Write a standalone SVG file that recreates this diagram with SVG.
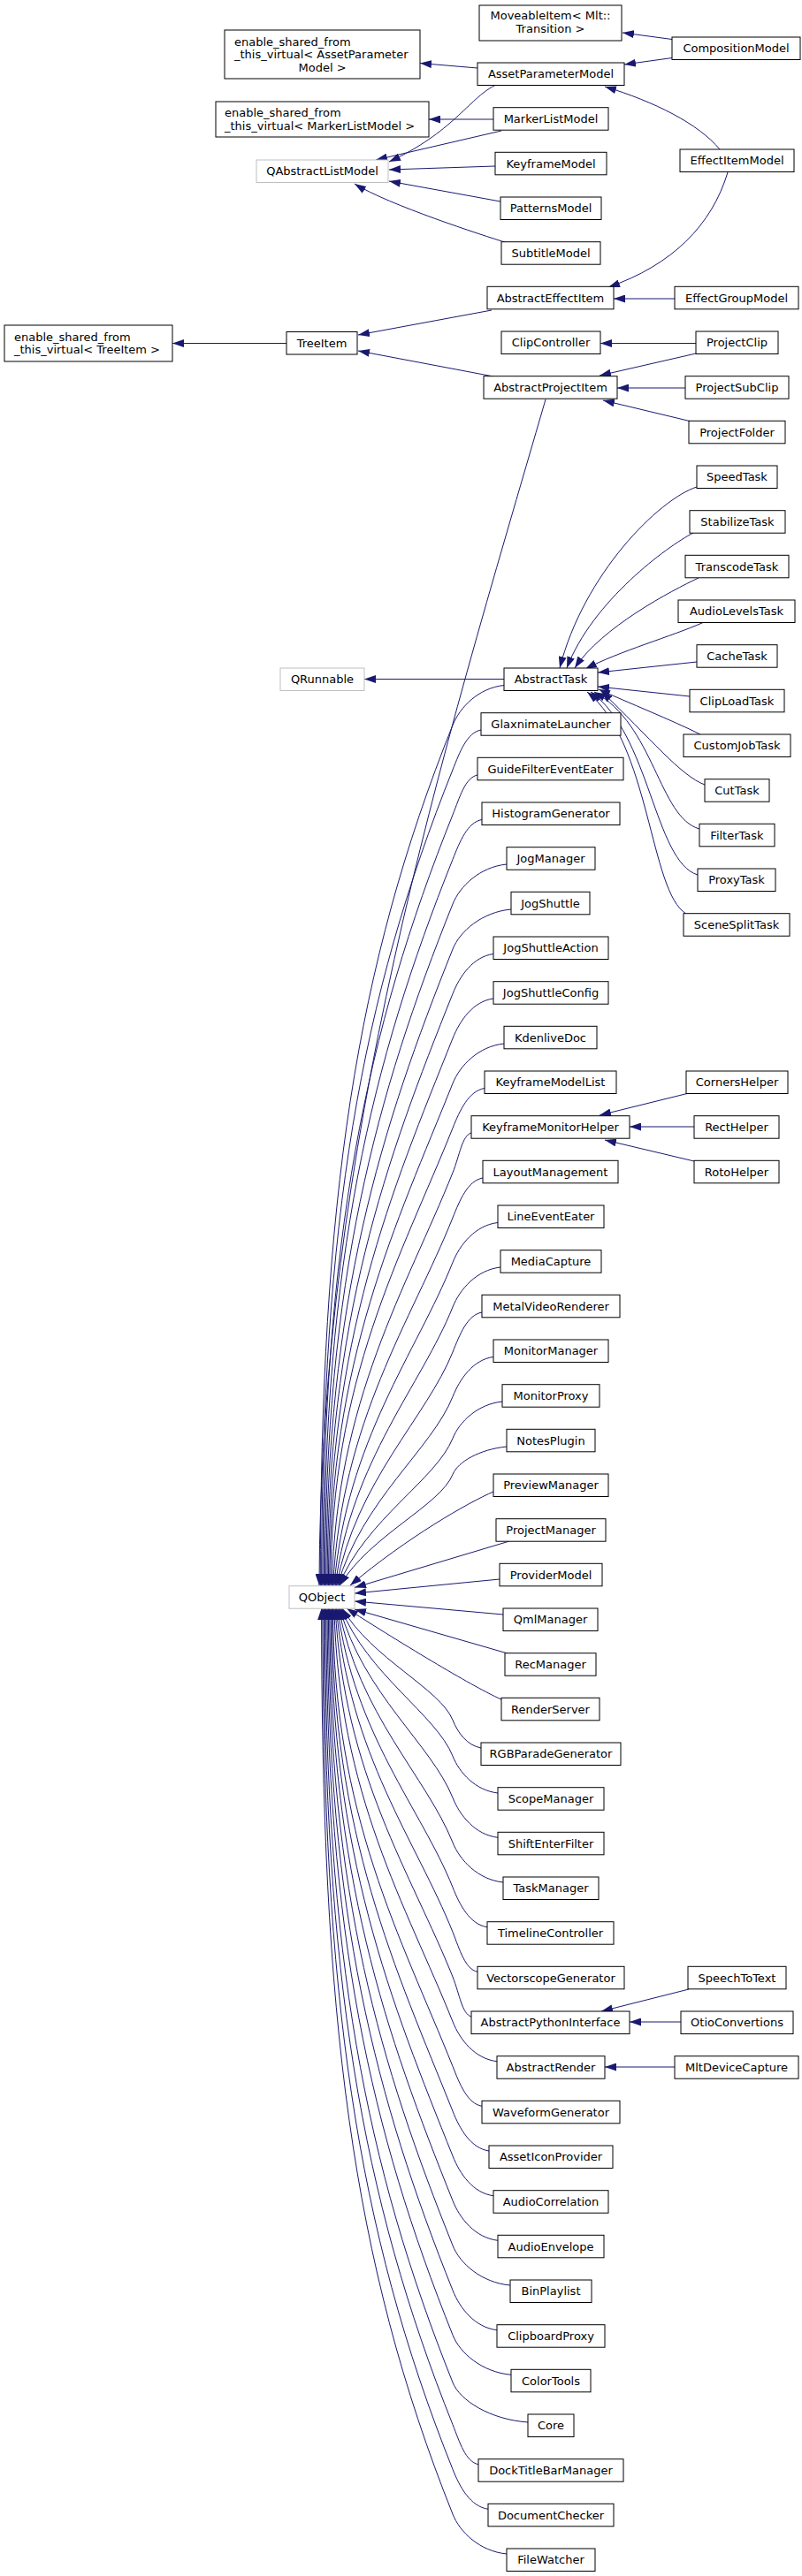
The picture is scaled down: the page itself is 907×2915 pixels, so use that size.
<svg xmlns="http://www.w3.org/2000/svg" width="907" height="2915" viewBox="0 0 907 2915">
<style>
.n rect{fill:#fff;stroke:#000;stroke-width:1}
.u rect{fill:#fff;stroke:#bfbfbf;stroke-width:1}
text{font-family:"DejaVu Sans","Liberation Sans",sans-serif;font-size:13px;fill:#000;text-anchor:middle}
text.l{text-anchor:start}
#edges path{fill:none;stroke:#191970;stroke-width:1;marker-end:url(#arr)}
</style>
<defs>
<marker id="arr" viewBox="0 0 13 9" refX="13" refY="4.5" markerWidth="13" markerHeight="9" markerUnits="userSpaceOnUse" orient="auto"><path d="M0,0 L13,4.5 L0,9 Z" fill="#191970"/></marker>
</defs>
<rect width="907" height="2915" fill="#fff"/>
<g id="edges">
<path d="M760,44.5 L704,37"/>
<path d="M760,65.5 L706,73"/>
<path d="M540,77 L475,71.5"/>
<path d="M558,135 L485,135"/>
<path d="M559,97 C530,112 512,150 440,183"/>
<path d="M567,148 L425,181"/>
<path d="M560,188 L440,192"/>
<path d="M566,228 L440,205"/>
<path d="M574,275 C545,266 440,232 401,208"/>
<path d="M814,169 C790,140 740,115 684,98"/>
<path d="M823,195 C805,255 760,300 688,325"/>
<path d="M763,338 L694,338"/>
<path d="M556,351 L405,379"/>
<path d="M324,388.5 L195,388.5"/>
<path d="M558,426 L405,397"/>
<path d="M787,388.5 L679,388.5"/>
<path d="M787,400 L678,425"/>
<path d="M775,439 L698,439"/>
<path d="M782,477 L682,453"/>
<path d="M788,551 C745,565 660,650 633,756"/>
<path d="M784,603 C755,618 670,680 641,756"/>
<path d="M790,654 C760,668 680,710 650,756"/>
<path d="M795,704.5 C760,720 700,737 662,757"/>
<path d="M788,749 L676,761"/>
<path d="M780,788 L676,777"/>
<path d="M792,831 C760,815 710,795 677,780"/>
<path d="M797,888 C770,878 735,835 680,782"/>
<path d="M791,938 C745,925 740,820 672,783"/>
<path d="M789,990 C740,975 735,830 668,783"/>
<path d="M776,1034 C735,1010 735,840 664,783"/>
<path d="M570,768.5 L412,768.5"/>
<path d="M779,1237 L678,1262"/>
<path d="M785,1275 L712,1275"/>
<path d="M785,1314 L684,1290"/>
<path d="M779,2251 L680,2276"/>
<path d="M770,2288 L712,2288"/>
<path d="M763,2339 L684,2339"/>
<path d="M617,452 C501,852 362,1294 361,1794"/>
<path d="M570,775.5 C541,778.5 520,800.5 512,820.5 C403,1093 362.3,1356 362.3,1794"/>
<path d="M544,826 C528,829 520,851 512,871 C408.6,1129.4 363.6,1378.6 363.6,1794"/>
<path d="M540,877 C526,880 520,902 512,922 C414.3,1166.2 364.9,1401.6 364.9,1794"/>
<path d="M545,927.5 C528.5,930.5 520,952.5 512,972.5 C420,1202.5 366.2,1424.3 366.2,1794"/>
<path d="M573,978 C542.5,981 520,1003 512,1023 C425.6,1238.9 367.5,1447 367.5,1794"/>
<path d="M578,1029 C545,1032 520,1054 512,1074 C431.4,1275.6 368.8,1470 368.8,1794"/>
<path d="M558,1079.5 C535,1082.5 520,1104.5 512,1124.5 C437,1312 370.1,1492.7 370.1,1794"/>
<path d="M558,1130 C535,1133 520,1155 512,1175 C442.7,1348.3 371.4,1515.4 371.4,1794"/>
<path d="M570,1181 C541,1184 520,1206 512,1226 C448.4,1385 372.7,1538.4 372.7,1794"/>
<path d="M548,1231.5 C530,1234.5 520,1256.5 512,1276.5 C454,1421.4 374,1561.1 374,1794"/>
<path d="M533,1282 C522.5,1285 520,1307 512,1327 C459.7,1457.8 380.6,1583.8 375.3,1794"/>
<path d="M546,1333 C529,1336 520,1358 512,1378 C465.4,1494.5 386.5,1606.8 376.6,1794"/>
<path d="M563,1383.5 C537.5,1386.5 520,1408.5 512,1428.5 C471.1,1530.8 392.1,1629.5 377.9,1794"/>
<path d="M566,1434 C539,1437 520,1459 512,1479 C476.7,1567.2 397.8,1652.3 379.2,1794"/>
<path d="M545,1485 C528.5,1488 520,1510 512,1530 C482.4,1603.9 403.4,1675.2 380.5,1794"/>
<path d="M558,1535.5 C535,1538.5 520,1560.5 512,1580.5 C488.1,1640.3 408.9,1697.9 381.8,1794"/>
<path d="M568,1586 C540,1589 519.5,1608.9 512,1627.6 C493.4,1674.2 413.9,1719.1 383.1,1794"/>
<path d="M573,1637 C542.5,1640 517.7,1654.3 512,1668.4 C497.9,1703.6 418.3,1737.5 384.4,1794"/>
<path d="M558,1688 C530,1700 460,1740 396,1794"/>
<path d="M576,1744 L401,1796.5"/>
<path d="M565,1787 L401,1803"/>
<path d="M569,1827 L401,1812"/>
<path d="M574,1871 L401,1821"/>
<path d="M567,1923 C545,1914 470,1870 392,1820"/>
<path d="M544,1978 C528,1975 517.7,1960.6 512,1946.4 C497.8,1911 420.3,1876.9 387,1820"/>
<path d="M563,2029 C537.5,2026 519.5,2006 512,1987.2 C493.3,1940.4 415.9,1895.2 385.7,1820"/>
<path d="M563,2079.3 C537.5,2076.3 520,2054.5 512,2034.3 C488,1974.3 410.8,1916.4 384.4,1820"/>
<path d="M569,2130 C540.5,2127 520,2105 512,2085 C482.3,2010.8 405.4,1939.3 383.1,1820"/>
<path d="M551,2180.7 C531.5,2177.7 520,2156 512,2135.7 C476.6,2047.3 400,1962 381.8,1820"/>
<path d="M540,2231.3 C526,2228.3 520,2206.5 512,2186.3 C471,2083.7 394.4,1984.8 380.5,1820"/>
<path d="M533,2282 C522.5,2279 520,2257.3 512,2237 C465.3,2120.2 388.8,2007.7 379.2,1820"/>
<path d="M562,2332.7 C537,2329.7 520,2308 512,2287.7 C459.6,2156.7 383,2030.5 377.9,1820"/>
<path d="M545,2383.3 C528.5,2380.3 520,2358.6 512,2338.3 C454,2193.2 376.6,2053.2 376.6,1820"/>
<path d="M553,2434 C532.5,2431 520,2409.3 512,2389 C448.3,2229.7 375.3,2076 375.3,1820"/>
<path d="M558,2484.7 C535,2481.7 520,2460 512,2439.7 C442.6,2266.2 374,2098.9 374,1820"/>
<path d="M563,2535.3 C537.5,2532.3 520,2510.6 512,2490.3 C436.9,2302.6 372.7,2121.6 372.7,1820"/>
<path d="M577,2586 C544.5,2583 520,2561.3 512,2541 C431.2,2339.1 371.4,2144.5 371.4,1820"/>
<path d="M562,2636.7 C537,2633.7 520,2612 512,2591.7 C425.6,2375.6 370.1,2167.3 370.1,1820"/>
<path d="M578,2687.3 C545,2684.3 520,2662.6 512,2642.3 C419.9,2412.1 368.8,2190 368.8,1820"/>
<path d="M597,2741 C554.5,2738 520,2716.3 512,2696 C413.9,2450.7 367.5,2214.2 367.5,1820"/>
<path d="M541,2788.7 C526.5,2785.7 520,2764 512,2743.7 C408.6,2485.1 366.2,2235.7 366.2,1820"/>
<path d="M552,2839.3 C532,2836.3 520,2814.6 512,2794.3 C402.9,2521.5 364.9,2258.4 364.9,1820"/>
<path d="M573,2890 C542.5,2887 520,2865.3 512,2845 C397.2,2558 363.6,2281.3 363.6,1820"/>
</g>
<g id="n_MoveableItem" class="n"><rect x="542" y="6" width="161" height="40"/><text x="622.5" y="22.3">MoveableItem&lt; Mlt::</text><text x="622.5" y="37.3">Transition &gt;</text></g>
<g id="n_CompositionModel" class="n"><rect x="760" y="42" width="145" height="25.5"/><text x="832.5" y="59.3">CompositionModel</text></g>
<g id="n_esft_AssetParameterModel" class="n"><rect x="254" y="34" width="221" height="55"/><text class="l" x="265" y="51.5">enable_shared_from</text><text class="l" x="265" y="66">_this_virtual&lt; AssetParameter</text><text x="364.5" y="80.5">Model &gt;</text></g>
<g id="n_AssetParameterModel" class="n"><rect x="540" y="71" width="166" height="25.5"/><text x="623" y="88.3">AssetParameterModel</text></g>
<g id="n_esft_MarkerListModel" class="n"><rect x="244" y="115" width="241" height="40"/><text class="l" x="254" y="131.7">enable_shared_from</text><text class="l" x="254" y="146.5">_this_virtual&lt; MarkerListModel &gt;</text></g>
<g id="n_MarkerListModel" class="n"><rect x="558" y="121.7" width="130" height="25.5"/><text x="623" y="139">MarkerListModel</text></g>
<g id="n_QAbstractListModel" class="u"><rect x="290" y="181" width="149" height="25.5"/><text x="364.5" y="198.3">QAbstractListModel</text></g>
<g id="n_KeyframeModel" class="n"><rect x="560" y="172.3" width="126" height="25.5"/><text x="623" y="189.6">KeyframeModel</text></g>
<g id="n_EffectItemModel" class="n"><rect x="769" y="169" width="129" height="25.5"/><text x="833.5" y="186.3">EffectItemModel</text></g>
<g id="n_PatternsModel" class="n"><rect x="566" y="223" width="114" height="25.5"/><text x="623" y="240.3">PatternsModel</text></g>
<g id="n_SubtitleModel" class="n"><rect x="567" y="273.7" width="112" height="25.5"/><text x="623" y="291">SubtitleModel</text></g>
<g id="n_AbstractEffectItem" class="n"><rect x="551" y="324.3" width="143" height="25.5"/><text x="622.5" y="341.6">AbstractEffectItem</text></g>
<g id="n_EffectGroupModel" class="n"><rect x="763" y="324.3" width="140" height="25.5"/><text x="833" y="341.6">EffectGroupModel</text></g>
<g id="n_esft_TreeItem" class="n"><rect x="5" y="368" width="190" height="41"/><text class="l" x="16" y="385.5">enable_shared_from</text><text class="l" x="16" y="400">_this_virtual&lt; TreeItem &gt;</text></g>
<g id="n_TreeItem" class="n"><rect x="324" y="375.5" width="80" height="25.5"/><text x="364" y="392.8">TreeItem</text></g>
<g id="n_ClipController" class="n"><rect x="567" y="375" width="112" height="25.5"/><text x="623" y="392.3">ClipController</text></g>
<g id="n_ProjectClip" class="n"><rect x="787" y="375" width="93" height="25.5"/><text x="833.5" y="392.3">ProjectClip</text></g>
<g id="n_AbstractProjectItem" class="n"><rect x="547" y="425.7" width="151" height="25.5"/><text x="622.5" y="443">AbstractProjectItem</text></g>
<g id="n_ProjectSubClip" class="n"><rect x="775" y="425.7" width="117" height="25.5"/><text x="833.5" y="443">ProjectSubClip</text></g>
<g id="n_ProjectFolder" class="n"><rect x="779" y="476.3" width="109" height="25.5"/><text x="833.5" y="493.6">ProjectFolder</text></g>
<g id="n_SpeedTask" class="n"><rect x="788" y="527" width="91" height="25.5"/><text x="833.5" y="544.3">SpeedTask</text></g>
<g id="n_StabilizeTask" class="n"><rect x="780" y="577.7" width="108" height="25.5"/><text x="834" y="595">StabilizeTask</text></g>
<g id="n_TranscodeTask" class="n"><rect x="775" y="628.3" width="117" height="25.5"/><text x="833.5" y="645.6">TranscodeTask</text></g>
<g id="n_AudioLevelsTask" class="n"><rect x="767" y="679" width="132" height="25.5"/><text x="833" y="696.3">AudioLevelsTask</text></g>
<g id="n_CacheTask" class="n"><rect x="788" y="729.7" width="91" height="25.5"/><text x="833.5" y="747">CacheTask</text></g>
<g id="n_QRunnable" class="u"><rect x="317" y="756" width="95" height="25.5"/><text x="364.5" y="773.3">QRunnable</text></g>
<g id="n_AbstractTask" class="n"><rect x="570" y="756" width="106" height="25.5"/><text x="623" y="773.3">AbstractTask</text></g>
<g id="n_ClipLoadTask" class="n"><rect x="780" y="780.3" width="107" height="25.5"/><text x="833.5" y="797.6">ClipLoadTask</text></g>
<g id="n_CustomJobTask" class="n"><rect x="773" y="831" width="121" height="25.5"/><text x="833.5" y="848.3">CustomJobTask</text></g>
<g id="n_CutTask" class="n"><rect x="797" y="881.7" width="73" height="25.5"/><text x="833.5" y="899">CutTask</text></g>
<g id="n_FilterTask" class="n"><rect x="791" y="932.3" width="85" height="25.5"/><text x="833.5" y="949.6">FilterTask</text></g>
<g id="n_ProxyTask" class="n"><rect x="789" y="983" width="88" height="25.5"/><text x="833" y="1000.3">ProxyTask</text></g>
<g id="n_SceneSplitTask" class="n"><rect x="773" y="1033.7" width="120" height="25.5"/><text x="833" y="1051">SceneSplitTask</text></g>
<g id="n_GlaxnimateLauncher" class="n"><rect x="544" y="806.7" width="158" height="25.5"/><text x="623" y="824">GlaxnimateLauncher</text></g>
<g id="n_GuideFilterEventEater" class="n"><rect x="540" y="857.3" width="165" height="25.5"/><text x="622.5" y="874.6">GuideFilterEventEater</text></g>
<g id="n_HistogramGenerator" class="n"><rect x="545" y="908" width="156" height="25.5"/><text x="623" y="925.3">HistogramGenerator</text></g>
<g id="n_JogManager" class="n"><rect x="573" y="958.7" width="100" height="25.5"/><text x="623" y="976">JogManager</text></g>
<g id="n_JogShuttle" class="n"><rect x="578" y="1009.3" width="89" height="25.5"/><text x="622.5" y="1026.6">JogShuttle</text></g>
<g id="n_JogShuttleAction" class="n"><rect x="558" y="1060" width="130" height="25.5"/><text x="623" y="1077.3">JogShuttleAction</text></g>
<g id="n_JogShuttleConfig" class="n"><rect x="558" y="1110.7" width="130" height="25.5"/><text x="623" y="1128">JogShuttleConfig</text></g>
<g id="n_KdenliveDoc" class="n"><rect x="570" y="1161.3" width="105" height="25.5"/><text x="622.5" y="1178.6">KdenliveDoc</text></g>
<g id="n_KeyframeModelList" class="n"><rect x="548" y="1212" width="149" height="25.5"/><text x="622.5" y="1229.3">KeyframeModelList</text></g>
<g id="n_CornersHelper" class="n"><rect x="776" y="1212" width="115" height="25.5"/><text x="833.5" y="1229.3">CornersHelper</text></g>
<g id="n_KeyframeMonitorHelper" class="n"><rect x="533" y="1262.7" width="179" height="25.5"/><text x="622.5" y="1280">KeyframeMonitorHelper</text></g>
<g id="n_RectHelper" class="n"><rect x="785" y="1262.7" width="96" height="25.5"/><text x="833" y="1280">RectHelper</text></g>
<g id="n_LayoutManagement" class="n"><rect x="546" y="1313.3" width="153" height="25.5"/><text x="622.5" y="1330.6">LayoutManagement</text></g>
<g id="n_RotoHelper" class="n"><rect x="785" y="1313.3" width="96" height="25.5"/><text x="833" y="1330.6">RotoHelper</text></g>
<g id="n_LineEventEater" class="n"><rect x="563" y="1364" width="120" height="25.5"/><text x="623" y="1381.3">LineEventEater</text></g>
<g id="n_MediaCapture" class="n"><rect x="566" y="1414.7" width="114" height="25.5"/><text x="623" y="1432">MediaCapture</text></g>
<g id="n_MetalVideoRenderer" class="n"><rect x="545" y="1465.3" width="156" height="25.5"/><text x="623" y="1482.6">MetalVideoRenderer</text></g>
<g id="n_MonitorManager" class="n"><rect x="558" y="1516" width="130" height="25.5"/><text x="623" y="1533.3">MonitorManager</text></g>
<g id="n_MonitorProxy" class="n"><rect x="568" y="1566.7" width="110" height="25.5"/><text x="623" y="1584">MonitorProxy</text></g>
<g id="n_NotesPlugin" class="n"><rect x="573" y="1617.3" width="100" height="25.5"/><text x="623" y="1634.6">NotesPlugin</text></g>
<g id="n_PreviewManager" class="n"><rect x="558" y="1668" width="130" height="25.5"/><text x="623" y="1685.3">PreviewManager</text></g>
<g id="n_ProjectManager" class="n"><rect x="561" y="1718.7" width="124" height="25.5"/><text x="623" y="1736">ProjectManager</text></g>
<g id="n_ProviderModel" class="n"><rect x="565" y="1769.3" width="116" height="25.5"/><text x="623" y="1786.6">ProviderModel</text></g>
<g id="n_QObject" class="u"><rect x="327" y="1794.7" width="74" height="25.5"/><text x="364" y="1812">QObject</text></g>
<g id="n_QmlManager" class="n"><rect x="569" y="1820" width="107" height="25.5"/><text x="622.5" y="1837.3">QmlManager</text></g>
<g id="n_RecManager" class="n"><rect x="571" y="1870.7" width="103" height="25.5"/><text x="622.5" y="1888">RecManager</text></g>
<g id="n_RenderServer" class="n"><rect x="567" y="1921.3" width="111" height="25.5"/><text x="622.5" y="1938.6">RenderServer</text></g>
<g id="n_RGBParadeGenerator" class="n"><rect x="544" y="1972" width="158" height="25.5"/><text x="623" y="1989.3">RGBParadeGenerator</text></g>
<g id="n_ScopeManager" class="n"><rect x="563" y="2022.7" width="120" height="25.5"/><text x="623" y="2040">ScopeManager</text></g>
<g id="n_ShiftEnterFilter" class="n"><rect x="563" y="2073.3" width="120" height="25.5"/><text x="623" y="2090.6">ShiftEnterFilter</text></g>
<g id="n_TaskManager" class="n"><rect x="569" y="2124" width="108" height="25.5"/><text x="623" y="2141.3">TaskManager</text></g>
<g id="n_TimelineController" class="n"><rect x="551" y="2174.7" width="143" height="25.5"/><text x="622.5" y="2192">TimelineController</text></g>
<g id="n_VectorscopeGenerator" class="n"><rect x="540" y="2225.3" width="166" height="25.5"/><text x="623" y="2242.6">VectorscopeGenerator</text></g>
<g id="n_SpeechToText" class="n"><rect x="778" y="2225.3" width="111" height="25.5"/><text x="833.5" y="2242.6">SpeechToText</text></g>
<g id="n_AbstractPythonInterface" class="n"><rect x="533" y="2276" width="179" height="25.5"/><text x="622.5" y="2293.3">AbstractPythonInterface</text></g>
<g id="n_OtioConvertions" class="n"><rect x="770" y="2276" width="127" height="25.5"/><text x="833.5" y="2293.3">OtioConvertions</text></g>
<g id="n_AbstractRender" class="n"><rect x="562" y="2326.7" width="122" height="25.5"/><text x="623" y="2344">AbstractRender</text></g>
<g id="n_MltDeviceCapture" class="n"><rect x="763" y="2326.7" width="140" height="25.5"/><text x="833" y="2344">MltDeviceCapture</text></g>
<g id="n_WaveformGenerator" class="n"><rect x="545" y="2377.3" width="156" height="25.5"/><text x="623" y="2394.6">WaveformGenerator</text></g>
<g id="n_AssetIconProvider" class="n"><rect x="553" y="2428" width="140" height="25.5"/><text x="623" y="2445.3">AssetIconProvider</text></g>
<g id="n_AudioCorrelation" class="n"><rect x="558" y="2478.7" width="130" height="25.5"/><text x="623" y="2496">AudioCorrelation</text></g>
<g id="n_AudioEnvelope" class="n"><rect x="563" y="2529.3" width="120" height="25.5"/><text x="623" y="2546.6">AudioEnvelope</text></g>
<g id="n_BinPlaylist" class="n"><rect x="577" y="2580" width="92" height="25.5"/><text x="623" y="2597.3">BinPlaylist</text></g>
<g id="n_ClipboardProxy" class="n"><rect x="562" y="2630.7" width="122" height="25.5"/><text x="623" y="2648">ClipboardProxy</text></g>
<g id="n_ColorTools" class="n"><rect x="578" y="2681.3" width="90" height="25.5"/><text x="623" y="2698.6">ColorTools</text></g>
<g id="n_Core" class="n"><rect x="597" y="2732" width="52" height="25.5"/><text x="623" y="2749.3">Core</text></g>
<g id="n_DockTitleBarManager" class="n"><rect x="541" y="2782.7" width="164" height="25.5"/><text x="623" y="2800">DockTitleBarManager</text></g>
<g id="n_DocumentChecker" class="n"><rect x="552" y="2833.3" width="142" height="25.5"/><text x="623" y="2850.6">DocumentChecker</text></g>
<g id="n_FileWatcher" class="n"><rect x="573" y="2884" width="100" height="25.5"/><text x="623" y="2901.3">FileWatcher</text></g>
</svg>
